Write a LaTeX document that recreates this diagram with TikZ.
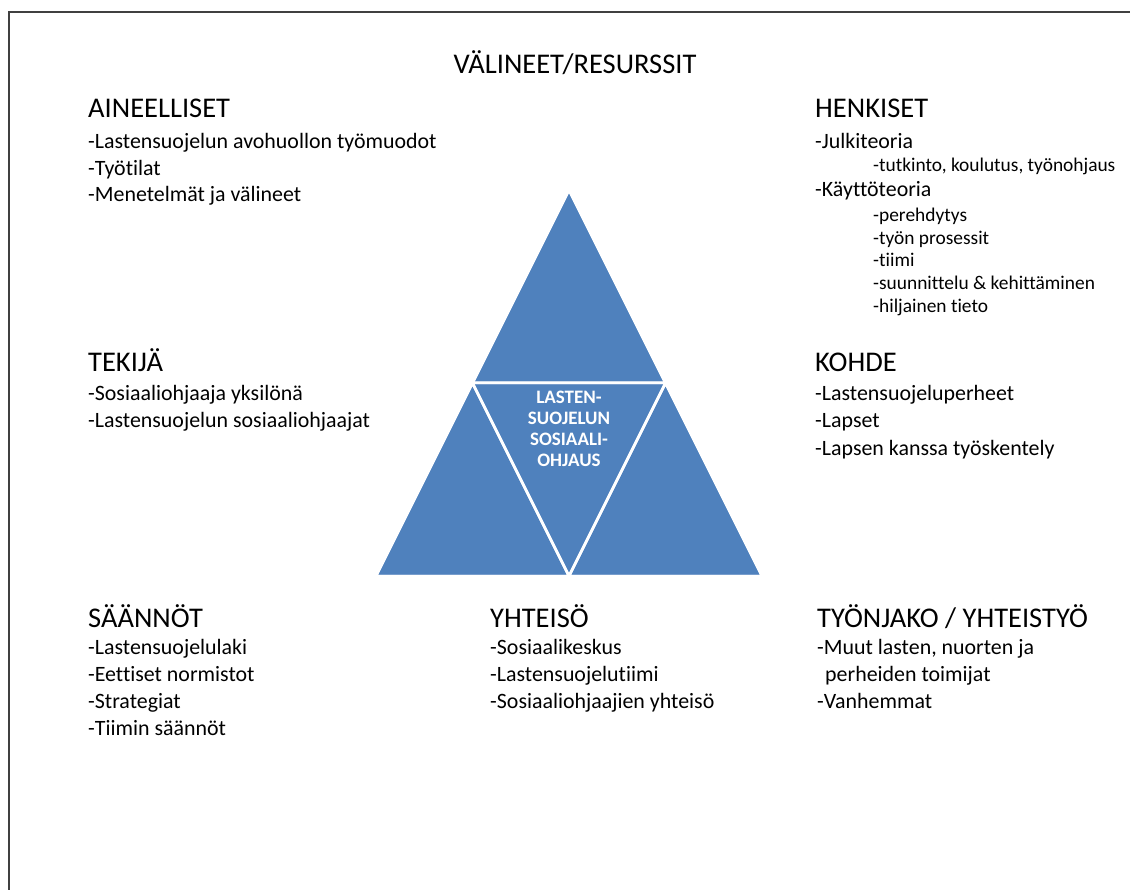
\documentclass[tikz,border=0pt]{standalone}
\usepackage{fontspec}
\setmainfont{Carlito}[Ligatures=NoCommon]
\usetikzlibrary{calc}
\definecolor{segblue}{HTML}{4F81BD}
\definecolor{framegray}{HTML}{404040}

\begin{document}
\begin{tikzpicture}
[
    x=1pt, y=-1pt,
    heading/.style={anchor=base west, inner sep=0pt, font=\fontsize{28.5}{34}\selectfont},
    item/.style={anchor=base west, inner sep=0pt, font=\fontsize{21.9}{26}\selectfont},
    subitem/.style={anchor=base west, inner sep=0pt, font=\fontsize{19.4}{23}\selectfont},
    piece/.style={fill=segblue, draw=white, line width=2.5pt, line join=round},
    core/.style={align=center, inner sep=0pt, text=white, font=\bfseries\fontsize{19}{20.8}\selectfont},
]
\useasboundingbox (0,0) rectangle (1130,890);
\draw[framegray, line width=2pt] (1130,12) -- (9,12) -- (9,890);

\coordinate (apex) at (569,190);
\coordinate (bl) at (376,576);
\coordinate (br) at (762,576);
\coordinate (ml) at ($(apex)!0.5!(bl)$);
\coordinate (mr) at ($(apex)!0.5!(br)$);
\coordinate (mb) at ($(bl)!0.5!(br)$);
\fill[piece] (apex) -- (ml) -- (mr) -- cycle;
\fill[piece] (ml) -- (bl) -- (mb) -- cycle;
\fill[piece] (mr) -- (mb) -- (br) -- cycle;
\fill[piece] (ml) -- (mr) -- (mb) -- cycle;
\path[draw=white, line width=2.5pt, line join=round] (apex) -- (ml) -- (mr) -- cycle
    (ml) -- (bl) -- (mb) -- cycle (mr) -- (mb) -- (br) -- cycle;
\node[core] (hub) at (569,429) {LASTEN-\\SUOJELUN\\SOSIAALI-\\OHJAUS};

\node[heading, anchor=base] (title) at (575,74) {VÄLINEET/RESURSSIT};

\node[heading] (ain) at (88,118) {AINEELLISET};
\foreach \t [count=\i] in {-Lastensuojelun avohuollon työmuodot, -Työtilat, -Menetelmät ja välineet}
    \node[item] (ain\i) at (88,{149+26.5*(\i-1)}) {\t};

\node[heading] (hen) at (815,118) {HENKISET};
\foreach \s/\xx/\yy/\t [count=\i] in {item/815/149/-Julkiteoria,
    subitem/873/172/{-tutkinto, koulutus, työnohjaus},
    item/815/197/-Käyttöteoria,
    subitem/873/222/-perehdytys,
    subitem/873/245/-työn prosessit,
    subitem/873/267/-tiimi,
    subitem/873/290/{-suunnittelu \& kehittäminen},
    subitem/873/313/-hiljainen tieto}
    \node[\s] (hen\i) at (\xx,\yy) {\t};

\node[heading] (tek) at (88,372) {TEKIJÄ};
\foreach \t [count=\i] in {-Sosiaaliohjaaja yksilönä, -Lastensuojelun sosiaaliohjaajat}
    \node[item] (tek\i) at (88,{401+27*(\i-1)}) {\t};

\node[heading] (koh) at (815,372) {KOHDE};
\foreach \t [count=\i] in {-Lastensuojeluperheet, -Lapset, -Lapsen kanssa työskentely}
    \node[item] (koh\i) at (815,{401+27*(\i-1)}) {\t};

\node[heading] (saa) at (88,627) {SÄÄNNÖT};
\foreach \t [count=\i] in {-Lastensuojelulaki, -Eettiset normistot, -Strategiat, -Tiimin säännöt}
    \node[item] (saa\i) at (88,{654+27*(\i-1)}) {\t};

\node[heading] (yht) at (490,627) {YHTEISÖ};
\foreach \t [count=\i] in {-Sosiaalikeskus, -Lastensuojelutiimi, -Sosiaaliohjaajien yhteisö}
    \node[item] (yht\i) at (490,{654+27*(\i-1)}) {\t};

\node[heading] (tyo) at (817,627) {TYÖNJAKO / YHTEISTYÖ};
\foreach \xx/\t [count=\i] in {817/{-Muut lasten, nuorten ja}, 825/perheiden toimijat, 817/-Vanhemmat}
    \node[item] (tyo\i) at (\xx,{654+27*(\i-1)}) {\t};
\end{tikzpicture}
\end{document}
